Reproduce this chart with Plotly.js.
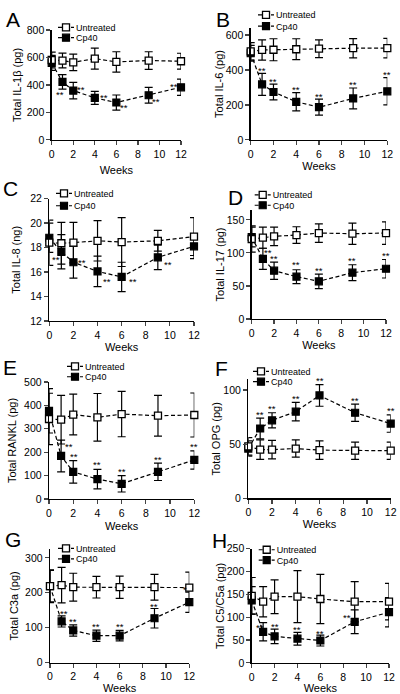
<!DOCTYPE html>
<html><head><meta charset="utf-8">
<script src="https://cdn.plot.ly/plotly-3.0.1.min.js"></script>
<style>html,body{margin:0;padding:0;background:#fff}#chart{width:400px;height:694px}</style>
</head><body><div id="chart"></div>
<script>
// ---------------- DATA ----------------
const weeks = [0, 1, 2, 4, 6, 9, 12];
const xTickVals = [0, 2, 4, 6, 8, 10, 12];
const xTitle = 'Weeks';
const seriesNames = ['Untreated', 'Cp40'];
const panelLetters = ['A', 'B', 'C', 'D', 'E', 'F', 'G', 'H'];
const yTitles = ['Total IL-1β (pg)', 'Total IL-6 (pg)', 'Total IL-8 (ng)', 'Total IL-17 (pg)',
                 'Total RANKL (pg)', 'Total OPG (pg)', 'Total C3a (pg)', 'Total C5/C5a (pg)'];

const il1bUntreated = [582, 578, 565, 592, 568, 578, 573];
const il1bUntreatedErr = [57, 54, 60, 77, 74, 64, 58];
const il1bCp40 = [561, 422, 359, 306, 272, 325, 383];
const il1bCp40Err = [55, 53, 60, 47, 55, 58, 59];
const il1bStars = ['', '**', '**', '**', '**', '**', '**'];

const il6Untreated = [507, 515, 516, 519, 522, 525, 525];
const il6UntreatedErr = [50, 58, 63, 60, 51, 55, 56];
const il6Cp40 = [496, 318, 274, 218, 187, 237, 278];
const il6Cp40Err = [45, 63, 45, 52, 46, 60, 78];
const il6Stars = ['', '**', '**', '**', '**', '**', '**'];

const il8Untreated = [18.4, 18.35, 18.4, 18.55, 18.45, 18.55, 18.9];
const il8UntreatedErr = [1.85, 1.7, 1.65, 1.65, 2.0, 0.85, 1.55];
const il8Cp40 = [18.8, 17.65, 16.8, 16.05, 15.6, 17.2, 18.1];
const il8Cp40Err = [1.2, 1.4, 1.3, 1.25, 1.2, 1.0, 1.0];
const il8Stars = ['', '**', '**', '**', '**', '**', ''];

const il17Untreated = [121, 123, 125, 127, 130, 129, 130];
const il17UntreatedErr = [20, 16, 14, 12.5, 14, 16, 17];
const il17Cp40 = [124, 91, 73, 64, 57, 70, 76];
const il17Cp40Err = [15, 16, 13, 10.5, 11, 12, 14];
const il17Stars = ['', '**', '**', '**', '**', '**', '**'];

const ranklUntreated = [342, 339, 361, 349, 363, 356, 359];
const ranklUntreatedErr = [110, 104, 87, 102, 97, 87, 94];
const ranklCp40 = [377, 184, 116, 85, 65, 116, 167];
const ranklCp40Err = [95, 68, 48, 42, 35, 37, 39];
const ranklStars = ['', '**', '**', '**', '**', '**', '**'];

const opgUntreated = [48, 45, 45, 46, 44.5, 44, 44];
const opgUntreatedErr = [8, 9, 8.5, 8, 8.5, 8, 8];
const opgCp40 = [46, 64.5, 72, 80, 95, 79, 69];
const opgCp40Err = [7, 9.5, 7, 8.5, 10, 8, 8];
const opgStars = ['', '**', '**', '**', '**', '**', '**'];

const c3aUntreated = [219, 222, 216, 216, 216, 216, 215];
const c3aUntreatedErr = [47, 51, 40, 31, 32, 37, 44];
const c3aCp40 = [219, 118, 92, 77, 77, 127, 173];
const c3aCp40Err = [45, 16, 16, 16, 15, 28, 29];
const c3aStars = ['', '**', '**', '**', '**', '**', '*'];

const c5aUntreated = [147, 134, 145, 145, 140, 134, 134];
const c5aUntreatedErr = [40, 33, 37, 57, 54, 44, 40];
const c5aCp40 = [137, 68, 58, 53, 49, 90, 111];
const c5aCp40Err = [30, 20, 16, 14, 12, 26, 32];
const c5aStars = ['', '**', '**', '**', '**', '**', ''];

const panelData = [
  [il1bUntreated, il1bUntreatedErr, il1bCp40, il1bCp40Err, il1bStars],
  [il6Untreated, il6UntreatedErr, il6Cp40, il6Cp40Err, il6Stars],
  [il8Untreated, il8UntreatedErr, il8Cp40, il8Cp40Err, il8Stars],
  [il17Untreated, il17UntreatedErr, il17Cp40, il17Cp40Err, il17Stars],
  [ranklUntreated, ranklUntreatedErr, ranklCp40, ranklCp40Err, ranklStars],
  [opgUntreated, opgUntreatedErr, opgCp40, opgCp40Err, opgStars],
  [c3aUntreated, c3aUntreatedErr, c3aCp40, c3aCp40Err, c3aStars],
  [c5aUntreated, c5aUntreatedErr, c5aCp40, c5aCp40Err, c5aStars]
];

// ---------------- LAYOUT / STYLE ----------------
const W = 400, H = 694;
const FONT = 'Liberation Sans, Arial, sans-serif';
// plot area in pixels: x [left, right], y [top, bottom], y range, y dtick
const panelBoxes = [
  {x: [51.7, 181], y: [24.3, 135], range: [0, 800], dtick: 200},
  {x: [250.7, 387.3], y: [22.3, 135], range: [0, 640], dtick: 200},
  {x: [49.3, 194], y: [194.3, 317.7], range: [12, 22], dtick: 2},
  {x: [251.7, 386], y: [205.7, 315.7], range: [0, 165], dtick: 50},
  {x: [49, 194.3], y: [379.3, 497.3], range: [0, 500], dtick: 100},
  {x: [248.3, 390.7], y: [376.4, 496.7], range: [0, 110], dtick: 50},
  {x: [50, 189.3], y: [547.9, 662.3], range: [0, 325], dtick: 100},
  {x: [251.7, 389], y: [547.5, 662.6], range: [0, 250], dtick: 50}
];
// title tweaks: y-title shift (px, +down), y standoff, x standoff
const titleStyle = [
  {shift: 12, ys: 3, xs: 7}, {shift: 13, ys: 0, xs: 3}, {shift: 3, ys: 7, xs: 0.5}, {shift: 3, ys: 0, xs: 0},
  {shift: -2, ys: 5, xs: 4}, {shift: -4, ys: 0, xs: 1.5}, {shift: -5, ys: 4, xs: 0.5}, {shift: -5, ys: 0, xs: 0}
];
// legend positions: text-left x px, first row y px, row gap px
const legendPos = [
  [76, 21.5, 10.5], [276, 9, 11.4], [74, 189, 12.5], [272.7, 190.5, 10.5],
  [85, 363.5, 10.5], [271, 368.5, 10.5], [76, 547.2, 10.5], [276.7, 548.5, 10.5]
];
// letter centers (px)
const letterPos = [[12.5, 13.4], [223.3, 13.4], [10, 183.7], [235.5, 192.7],
                   [9.5, 364.2], [221.7, 365.5], [12.5, 538.3], [219.7, 539.2]];
// star offsets: [anchor ('pt' point / 'top' of error bar), dx, dy (px, +down)]
const starOffsets = [
  [null, ['pt', -2, 11], ['pt', 8, -3], ['pt', 9, -2], ['pt', 8, 3], ['pt', 7, 4], ['pt', -7, -3]],
  [null, ['top', 0, -5], ['top', 0, -5], ['top', 0, -5], ['top', 0, -5], ['top', 0, -5], ['top', 0, -5]],
  [null, ['pt', -5, 6], ['pt', 9, -2], ['pt', 9, 8], ['pt', 11, 3], ['pt', 10, 5], null],
  [null, ['top', 5, 2], ['top', 0, -6], ['top', 0, -7], ['top', 0, -6], ['top', 0, -6], ['top', 0, -6]],
  [null, ['top', 8, 4], ['top', 1, -6], ['top', 0, -7], ['top', 0, -6], ['top', 0, -6], ['top', 0, -6]],
  [null, ['top', 0, -6], ['top', 0, -6], ['top', 0, -6], ['top', 0, -6], ['top', 0, -6], ['top', 0, -6]],
  [null, ['top', 2, -4], ['top', 0, -5], ['top', 0, -6], ['top', 0, -6], ['top', 0, -4], ['top', -4, -5]],
  [null, ['top', -3, 3], ['top', 0, -5], ['top', 0, -5], ['top', 0, -4], ['top', -8, 6], null]
];

function padTitle(text, shift, size) {
  const n = Math.round(2 * Math.abs(shift) / (0.278 * size));
  if (Math.abs(shift) < 1 || n === 0) return text;
  const pad = '\u00a0'.repeat(n);
  return shift > 0 ? text + pad : pad + text;
}

const traces = [];
const annotations = [];
const layout = {
  width: W, height: H,
  margin: {l: 0, r: 0, t: 0, b: 0},
  paper_bgcolor: '#fff', plot_bgcolor: 'rgba(0,0,0,0)',
  font: {family: FONT, color: '#000', size: 10.5},
  showlegend: true
};

panelData.forEach((d, p) => {
  const [unt, untErr, cp, cpErr, stars] = d;
  const box = panelBoxes[p];
  const n = p + 1;
  const xa = 'x' + (n === 1 ? '' : n), ya = 'y' + (n === 1 ? '' : n);
  const xKey = 'xaxis' + (n === 1 ? '' : n), yKey = 'yaxis' + (n === 1 ? '' : n);
  const legA = 'legend' + (p === 0 ? '' : 2 * p + 1);
  const legB = 'legend' + (2 * p + 2);
  const ts = titleStyle[p];

  layout[xKey] = {
    domain: [box.x[0] / W, box.x[1] / W], anchor: ya,
    range: [0, 12], tickvals: xTickVals, ticks: 'outside', ticklen: 4, tickwidth: 1.2,
    showline: true, linewidth: 1.3, linecolor: '#000', showgrid: false, zeroline: false,
    tickfont: {size: 10.5}, fixedrange: true,
    title: {text: xTitle, font: {size: 11}, standoff: ts.xs}
  };
  layout[yKey] = {
    domain: [1 - box.y[1] / H, 1 - box.y[0] / H], anchor: xa,
    range: box.range, dtick: box.dtick, tick0: 0, ticks: 'outside', ticklen: 4, tickwidth: 1.2,
    showline: true, linewidth: 1.3, linecolor: '#000', showgrid: false, zeroline: false,
    tickfont: {size: 10.5}, fixedrange: true,
    title: {text: padTitle(yTitles[p], ts.shift, 11), font: {size: 11}, standoff: ts.ys}
  };

  const lineStyle = {color: '#000', width: 1.2, dash: '4px,2.5px'};
  traces.push({
    type: 'scatter', mode: 'lines+markers', name: seriesNames[1],
    x: weeks, y: cp, xaxis: xa, yaxis: ya, legend: legB, cliponaxis: false,
    line: lineStyle,
    marker: {symbol: 'square', size: 7, color: '#000', line: {color: '#000', width: 1.2}},
    error_y: {type: 'data', array: cpErr, visible: true, color: '#000', thickness: 1.2, width: 4}
  });
  traces.push({
    type: 'scatter', mode: 'lines+markers', name: seriesNames[0],
    x: weeks, y: unt, xaxis: xa, yaxis: ya, legend: legA, cliponaxis: false,
    line: lineStyle,
    marker: {symbol: 'square', size: 7, color: '#fff', line: {color: '#000', width: 1.3}},
    error_y: {type: 'data', array: untErr, visible: true, color: '#000', thickness: 1.2, width: 4}
  });

  const lp = legendPos[p];
  [[legA, 0], [legB, 1]].forEach(([key, row]) => {
    layout[key] = {
      x: (lp[0] - 40) / W, y: 1 - (lp[1] + row * lp[2]) / H,
      xanchor: 'left', yanchor: 'middle', bgcolor: 'rgba(0,0,0,0)', borderwidth: 0,
      font: {size: 9, family: FONT}, itemwidth: 30, tracegroupgap: 0
    };
  });

  stars.forEach((s, i) => {
    const off = starOffsets[p][i];
    if (!s || !off) return;
    annotations.push({
      xref: xa, yref: ya, x: weeks[i], y: cp[i] + (off[0] === 'top' ? cpErr[i] : 0),
      text: s, showarrow: false, xanchor: 'center', yanchor: 'middle',
      xshift: off[1], yshift: -(off[2] + 2), font: {size: 9.5}
    });
  });

  annotations.push({
    xref: 'paper', yref: 'paper', x: letterPos[p][0] / W, y: 1 - letterPos[p][1] / H,
    xanchor: 'center', yanchor: 'middle', text: panelLetters[p], showarrow: false,
    font: {size: 21}
  });
});
layout.annotations = annotations;

Plotly.newPlot('chart', traces, layout, {staticPlot: true, displayModeBar: false}).then(gd => {
  // compact legend glyphs ("-□-") like the original figure
  gd.querySelectorAll('.legendlines path').forEach(el => el.setAttribute('d', 'M22,0h16'));
  gd.querySelectorAll('.legendpoints path.scatterpts').forEach(el => el.setAttribute('transform', 'translate(30,0)'));
});
</script></body></html>
